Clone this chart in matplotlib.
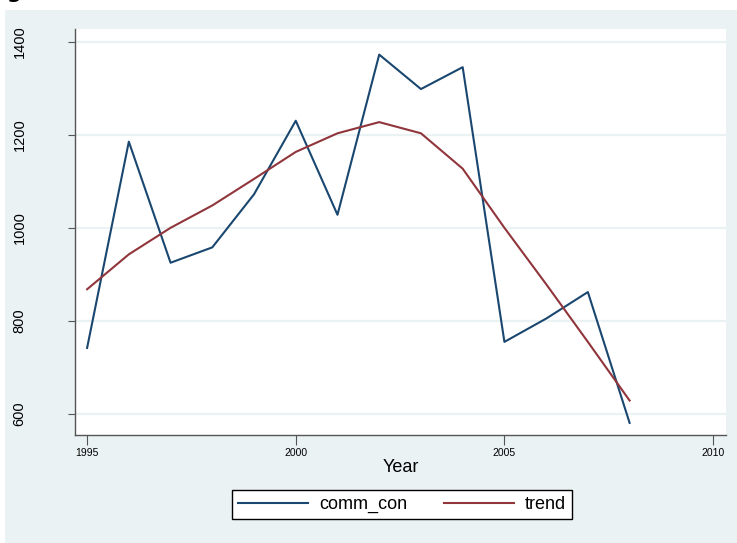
import matplotlib
matplotlib.use("Agg")
import matplotlib.pyplot as plt
from matplotlib.patches import Rectangle

plt.rcParams['font.family'] = ['Liberation Sans', 'DejaVu Sans']

years = [1995, 1996, 1997, 1998, 1999, 2000, 2001, 2002, 2003, 2004, 2005, 2006, 2007, 2008]
comm_con = [742, 1185, 925, 958, 1072, 1230, 1028, 1372, 1298, 1345, 755, 805, 862, 581]
trend = [868, 943, 1000, 1048, 1105, 1163, 1203, 1227, 1203, 1127, 1000, 879, 755, 629]

xticks = [1995, 2000, 2005, 2010]
yticks = [600, 800, 1000, 1200, 1400]

W, H = 737, 543
fig = plt.figure(figsize=(W / 100, H / 100), dpi=100, facecolor='white')

# graph region background (Stata s2color style)
bg = Rectangle((5 / W, 0), (W - 5) / W, (H - 10) / H,
               transform=fig.transFigure, facecolor='#eaf2f3',
               edgecolor='none', zorder=-10)
fig.add_artist(bg)

# cut-off title stub at the top
fig.text(6 / W, 1 + 1.5 / H, 'g', fontsize=15, fontweight='bold',
         va='baseline', ha='left', color='black', family='DejaVu Sans')

ax = fig.add_axes([75 / W, (H - 435) / H, (726 - 75) / W, (435 - 29) / H])
ax.set_zorder(1)
ax.set_facecolor('white')

for v in yticks:
    ax.axhline(v, color='#eaf2f3', lw=1.6, zorder=1)

navy = '#1a476f'
maroon = '#90353b'
ax.plot(years, comm_con, color=navy, lw=1.5, label='comm_con', zorder=3)
ax.plot(years, trend, color=maroon, lw=1.5, label='trend', zorder=3)

ax.set_xlim(1994.71, 2010.31)
ax.set_ylim(555, 1427)
ax.set_xticks(xticks)
ax.set_yticks(yticks)
ax.set_xticklabels([str(x) for x in xticks], fontsize=7.5)
ax.set_yticklabels([str(y) for y in yticks], fontsize=10.5, rotation=90, va='center')

for s in ['top', 'right']:
    ax.spines[s].set_visible(False)
for s in ['left', 'bottom']:
    ax.spines[s].set_color('#555555')
    ax.spines[s].set_linewidth(1.0)

ax.tick_params(axis='y', length=5, width=0.8, color='#555555', pad=30)
ax.tick_params(axis='x', length=7, width=0.8, color='#555555', pad=2)

ax.set_xlabel('Year', fontsize=13, labelpad=1)

leg = fig.legend(loc='center', bbox_to_anchor=(402 / W, 1 - 504.5 / H), ncol=2,
                 fontsize=13, frameon=True, fancybox=False, edgecolor='black',
                 framealpha=1, handlelength=3.9, columnspacing=2.0,
                 borderpad=0.35, handletextpad=0.6)
leg.set_zorder(2)

fig.savefig('out.png', dpi=100, facecolor='white')
